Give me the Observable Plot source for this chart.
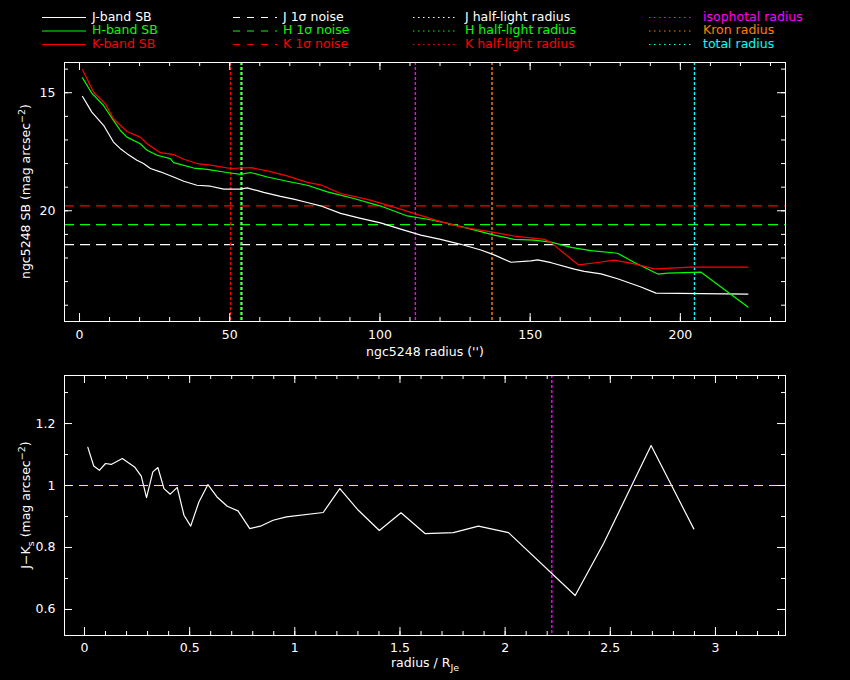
<!DOCTYPE html>
<html><head><meta charset="utf-8">
<script src="https://cdn.jsdelivr.net/npm/d3@7"></script>
<script src="https://cdn.jsdelivr.net/npm/@observablehq/plot@0.6"></script>
<style>
html,body{margin:0;padding:0;background:#000;}
#page{position:relative;width:850px;height:680px;background:#000;overflow:hidden;font-family:"DejaVu Sans",sans-serif;}
#page > svg{position:absolute;left:0;}
</style></head><body><div id="page"></div>
<script>
// ---------- DATA ----------
// J-band surface brightness profile
const radiusJ = [1, 4.1, 8, 11.3, 13.6, 15.8, 19.1, 21.3, 23.6, 26.9, 31.3, 34.7, 39.1, 43.6, 48, 53.6, 55.8, 61.3, 66.9, 71.3, 75.8, 80.2, 86.9, 93.6, 100.2, 106.9, 113.6, 120.2, 126.9, 133.6, 138, 143.6, 150.2, 152.5, 157, 164.7, 168, 173.6, 179.1, 186.9, 191.9, 222.5];
const sbJ     = [15.16, 15.82, 16.38, 17.09, 17.37, 17.58, 17.86, 18.0, 18.21, 18.35, 18.57, 18.75, 18.92, 18.96, 19.08, 19.08, 19.03, 19.22, 19.39, 19.51, 19.65, 19.79, 20.11, 20.32, 20.51, 20.78, 21.03, 21.21, 21.42, 21.66, 21.87, 22.18, 22.12, 22.08, 22.2, 22.47, 22.57, 22.67, 22.88, 23.23, 23.49, 23.53];
// H-band
const radiusH = [1, 4.1, 8, 11.3, 13.6, 15.8, 20.2, 22.5, 25.8, 30.2, 31.3, 38, 42.5, 49.1, 53.6, 56.9, 62.5, 69.1, 75.8, 82.5, 91.3, 100.2, 109.1, 115.8, 122.5, 131.3, 138, 144.7, 151.3, 156.9, 163.6, 170.2, 179.1, 184.7, 192.5, 195.8, 206.9, 222.5];
const sbH     = [14.37, 15.02, 15.54, 16.17, 16.6, 16.88, 17.16, 17.44, 17.65, 17.79, 17.96, 18.19, 18.25, 18.38, 18.46, 18.38, 18.57, 18.75, 18.92, 19.2, 19.48, 19.8, 20.22, 20.36, 20.53, 20.81, 21.03, 21.21, 21.24, 21.33, 21.55, 21.69, 21.8, 22.19, 22.68, 22.64, 22.6, 24.08];
// K-band
const radiusK = [1, 4.7, 8.6, 11.3, 15.8, 20.2, 22.5, 26.9, 31.3, 34.7, 39.1, 43.6, 50.2, 56.9, 62.5, 69.1, 75.8, 80.2, 86.9, 95.8, 102.5, 111.3, 120.2, 126.9, 136.9, 144.7, 154.7, 157, 166, 172.5, 178, 184.7, 191.3, 196.9, 203.6, 222.5];
const sbK     = [14.03, 14.98, 15.47, 16.1, 16.64, 16.88, 17.16, 17.54, 17.62, 17.82, 18.0, 18.07, 18.21, 18.17, 18.31, 18.52, 18.8, 18.9, 19.27, 19.52, 19.76, 20.11, 20.46, 20.68, 20.89, 21.07, 21.21, 21.35, 22.29, 22.19, 22.09, 22.25, 22.46, 22.43, 22.39, 22.39];
// 1-sigma noise levels (J, H, K)
const noiseLevels = [21.43, 20.59, 19.79];
const noiseColors = ["#ffffff", "#00ff00", "#ff0000"];
// characteristic radii
const radiiNames  = ["K half-light", "J half-light", "H half-light", "isophotal", "Kron", "total"];
const radiiValues = [50.3, 54.0, 53.7, 111.8, 137.3, 204.7];
const radiiColors = ["#ff0000", "#ffffff", "#00ff00", "#ff00ff", "#ff8000", "#00ffff"];
// J-K colour profile vs radius / R_Je
const radiusNorm = [0.016, 0.044, 0.071, 0.1, 0.127, 0.18, 0.214, 0.238, 0.27, 0.295, 0.325, 0.349, 0.378, 0.408, 0.441, 0.473, 0.505, 0.544, 0.587, 0.63, 0.679, 0.73, 0.786, 0.841, 0.897, 0.96, 1.135, 1.214, 1.302, 1.402, 1.505, 1.619, 1.754, 1.873, 2.016, 2.333, 2.468, 2.694, 2.897];
const colorJK    = [1.123, 1.063, 1.049, 1.071, 1.068, 1.087, 1.071, 1.06, 1.03, 0.961, 1.044, 1.058, 0.99, 0.972, 0.994, 0.904, 0.869, 0.947, 1.003, 0.963, 0.933, 0.918, 0.861, 0.87, 0.888, 0.899, 0.913, 0.99, 0.92, 0.855, 0.912, 0.845, 0.848, 0.869, 0.848, 0.645, 0.813, 1.129, 0.86];
const colorRef = 1;
const colorRadiusMark = 2.222;
// ticks
const topXMajor = [0, 50, 100, 150, 200];
const topXMinor = [0, 10, 20, 30, 40, 50, 60, 70, 80, 90, 100, 110, 120, 130, 140, 150, 160, 170, 180, 190, 200, 210, 220, 230];
const topYMajor = [15, 20];
const topYMinor = [14, 15, 16, 17, 18, 19, 20, 21, 22, 23, 24];
const botXMajor = [0, 0.5, 1, 1.5, 2, 2.5, 3];
const botXMinor = [0, 0.1, 0.2, 0.3, 0.4, 0.5, 0.6, 0.7, 0.8, 0.9, 1, 1.1, 1.2, 1.3, 1.4, 1.5, 1.6, 1.7, 1.8, 1.9, 2, 2.1, 2.2, 2.3, 2.4, 2.5, 2.6, 2.7, 2.8, 2.9, 3, 3.1, 3.2, 3.3];
const botYMajor = [0.6, 0.8, 1, 1.2];
const botYMinor = [0.6, 0.7, 0.8, 0.9, 1, 1.1, 1.2, 1.3];
// legend
const legendCol1 = ["J-band SB", "H-band SB", "K-band SB"];
const legendCol2 = ["J 1σ noise", "H 1σ noise", "K 1σ noise"];
const legendCol3 = ["J half-light radius", "H half-light radius", "K half-light radius"];
const legendCol4 = ["isophotal radius", "Kron radius", "total radius"];
const bandColors = ["#ffffff", "#00ff00", "#ff0000"];
const col4Colors = ["#ff00ff", "#ff8000", "#00ffff"];

// ---------- BUILD ----------
const page = document.getElementById("page");
const FONT = "DejaVu Sans, sans-serif";

// Legend
const leg = d3.create("svg").attr("width", 850).attr("height", 52).style("top", "0px");
const rowsY = [17, 30.5, 44];
const cols = [
  {labels: legendCol1, colors: bandColors, x1: 42, x2: 86, tx: 92, dash: null},
  {labels: legendCol2, colors: bandColors, x1: 233, x2: 277, tx: 283, dash: "7,7"},
  {labels: legendCol3, colors: bandColors, x1: 413, x2: 457, tx: 465, dash: "1.5,3.5"},
  {labels: legendCol4, colors: col4Colors, x1: 649, x2: 693, tx: 703, dash: "1.5,3.5"}
];
cols.forEach(c => {
  c.labels.forEach((lab, i) => {
    const ln = leg.append("line").attr("x1", c.x1).attr("x2", c.x2).attr("y1", rowsY[i] + 0.5).attr("y2", rowsY[i] + 0.5)
      .attr("stroke", c.colors[i]).attr("stroke-width", 1.2);
    if (c.dash) ln.attr("stroke-dasharray", c.dash);
    leg.append("text").attr("x", c.tx).attr("y", rowsY[i]).attr("dominant-baseline", "middle")
      .attr("fill", c.colors[i]).attr("font-family", FONT).attr("font-size", 12.5).text(lab);
  });
});
page.appendChild(leg.node());

function frameTicks(xMaj, xMin, yMaj, yMin, fw, fh) {
  const s = {stroke: "white", strokeWidth: 1};
  return [
    Plot.tickX(xMaj, {x: d => d, ...s, insetTop: fh - 8}),
    Plot.tickX(xMaj, {x: d => d, ...s, insetBottom: fh - 8}),
    Plot.tickX(xMin, {x: d => d, ...s, insetTop: fh - 4}),
    Plot.tickX(xMin, {x: d => d, ...s, insetBottom: fh - 4}),
    Plot.tickY(yMaj, {y: d => d, ...s, insetRight: fw - 8}),
    Plot.tickY(yMaj, {y: d => d, ...s, insetLeft: fw - 8}),
    Plot.tickY(yMin, {y: d => d, ...s, insetRight: fw - 4}),
    Plot.tickY(yMin, {y: d => d, ...s, insetLeft: fw - 4})
  ];
}

const style = {background: "black", color: "white", fontFamily: FONT, fontSize: "12.5px", overflow: "visible"};

// Top panel
const T = {width: 850, height: 310, ml: 64, mr: 65, mt: 10, mb: 41};
const tfw = T.width - T.ml - T.mr, tfh = T.height - T.mt - T.mb;
const dJ = radiusJ.map((r, i) => ({r, m: sbJ[i]}));
const dH = radiusH.map((r, i) => ({r, m: sbH[i]}));
const dK = radiusK.map((r, i) => ({r, m: sbK[i]}));
const noise = noiseLevels.map((v, i) => ({v, c: noiseColors[i]}));
const radii = radiiValues.map((v, i) => ({v, c: radiiColors[i], n: radiiNames[i]}));

const topPlot = Plot.plot({
  width: T.width, height: T.height,
  marginLeft: T.ml, marginRight: T.mr, marginTop: T.mt, marginBottom: T.mb,
  style,
  x: {domain: [-5, 235]},
  y: {domain: [13.72, 24.69], reverse: true},
  marks: [
    Plot.ruleY(noise, {y: "v", stroke: "c", strokeDasharray: "10,6", strokeWidth: 1.2}),
    Plot.ruleX(radii, {x: "v", stroke: "c", strokeDasharray: "3,2", strokeWidth: 1.4}),
    Plot.line(dJ, {x: "r", y: "m", stroke: "#ffffff", strokeWidth: 1.2}),
    Plot.line(dH, {x: "r", y: "m", stroke: "#00ff00", strokeWidth: 1.2}),
    Plot.line(dK, {x: "r", y: "m", stroke: "#ff0000", strokeWidth: 1.2}),
    Plot.frame({stroke: "white"}),
    ...frameTicks(topXMajor, topXMinor, topYMajor, topYMinor, tfw, tfh),
    Plot.axisX({ticks: topXMajor, tickSize: 0, tickPadding: 9, label: null, tickFormat: d => String(d)}),
    Plot.axisY({ticks: topYMajor, tickSize: 0, tickPadding: 9, label: null, tickFormat: d => String(d)})
  ]
});
topPlot.style.top = "52px";
{
  const s = d3.select(topPlot);
  s.append("text").attr("x", 425).attr("y", 304).attr("text-anchor", "middle").attr("fill", "white")
    .attr("font-family", FONT).attr("font-size", 12.5).text("ngc5248 radius ('')");
  const yt = s.append("text").attr("transform", `translate(30,${T.mt + tfh / 2}) rotate(-90)`).attr("text-anchor", "middle")
    .attr("fill", "white").attr("font-family", FONT).attr("font-size", 12.5);
  yt.append("tspan").text("ngc5248 SB (mag arcsec");
  yt.append("tspan").attr("dy", -5).attr("font-size", 9.5).text("−2");
  yt.append("tspan").attr("dy", 5).text(")");
}
page.appendChild(topPlot);

// Bottom panel
const B = {width: 850, height: 315, ml: 64, mr: 65, mt: 10, mb: 45};
const bfw = B.width - B.ml - B.mr, bfh = B.height - B.mt - B.mb;
const dC = radiusNorm.map((v, i) => ({v, c: colorJK[i]}));
const botPlot = Plot.plot({
  width: B.width, height: B.height,
  marginLeft: B.ml, marginRight: B.mr, marginTop: B.mt, marginBottom: B.mb,
  style,
  x: {domain: [-0.095, 3.333]},
  y: {domain: [0.516, 1.355]},
  marks: [
    Plot.ruleY([colorRef], {stroke: "#ffff00", strokeDasharray: "9,6", strokeWidth: 1.2}),
    Plot.ruleX([colorRadiusMark], {stroke: "#ff00ff", strokeDasharray: "3,2", strokeWidth: 1.4}),
    Plot.line(dC, {x: "v", y: "c", stroke: "white", strokeWidth: 1.2}),
    Plot.frame({stroke: "white"}),
    ...frameTicks(botXMajor, botXMinor, botYMajor, botYMinor, bfw, bfh),
    Plot.axisX({ticks: botXMajor, tickSize: 0, tickPadding: 8, label: null, tickFormat: d => String(d)}),
    Plot.axisY({ticks: botYMajor, tickSize: 0, tickPadding: 9, label: null, tickFormat: d => String(d)})
  ]
});
botPlot.style.top = "365px";
{
  const s = d3.select(botPlot);
  const xt = s.append("text").attr("x", 425).attr("y", 302).attr("text-anchor", "middle").attr("fill", "white")
    .attr("font-family", FONT).attr("font-size", 12.5);
  xt.append("tspan").text("radius / R");
  xt.append("tspan").attr("dy", 4).attr("font-size", 9.5).text("Je");
  const yt = s.append("text").attr("transform", `translate(30,${B.mt + bfh / 2}) rotate(-90)`).attr("text-anchor", "middle")
    .attr("fill", "white").attr("font-family", FONT).attr("font-size", 12.5);
  yt.append("tspan").text("J−K");
  yt.append("tspan").attr("dy", 4).attr("font-size", 9.5).text("s");
  yt.append("tspan").attr("dy", -4).text(" (mag arcsec");
  yt.append("tspan").attr("dy", -5).attr("font-size", 9.5).text("−2");
  yt.append("tspan").attr("dy", 5).text(")");
}
page.appendChild(botPlot);
</script></body></html>
